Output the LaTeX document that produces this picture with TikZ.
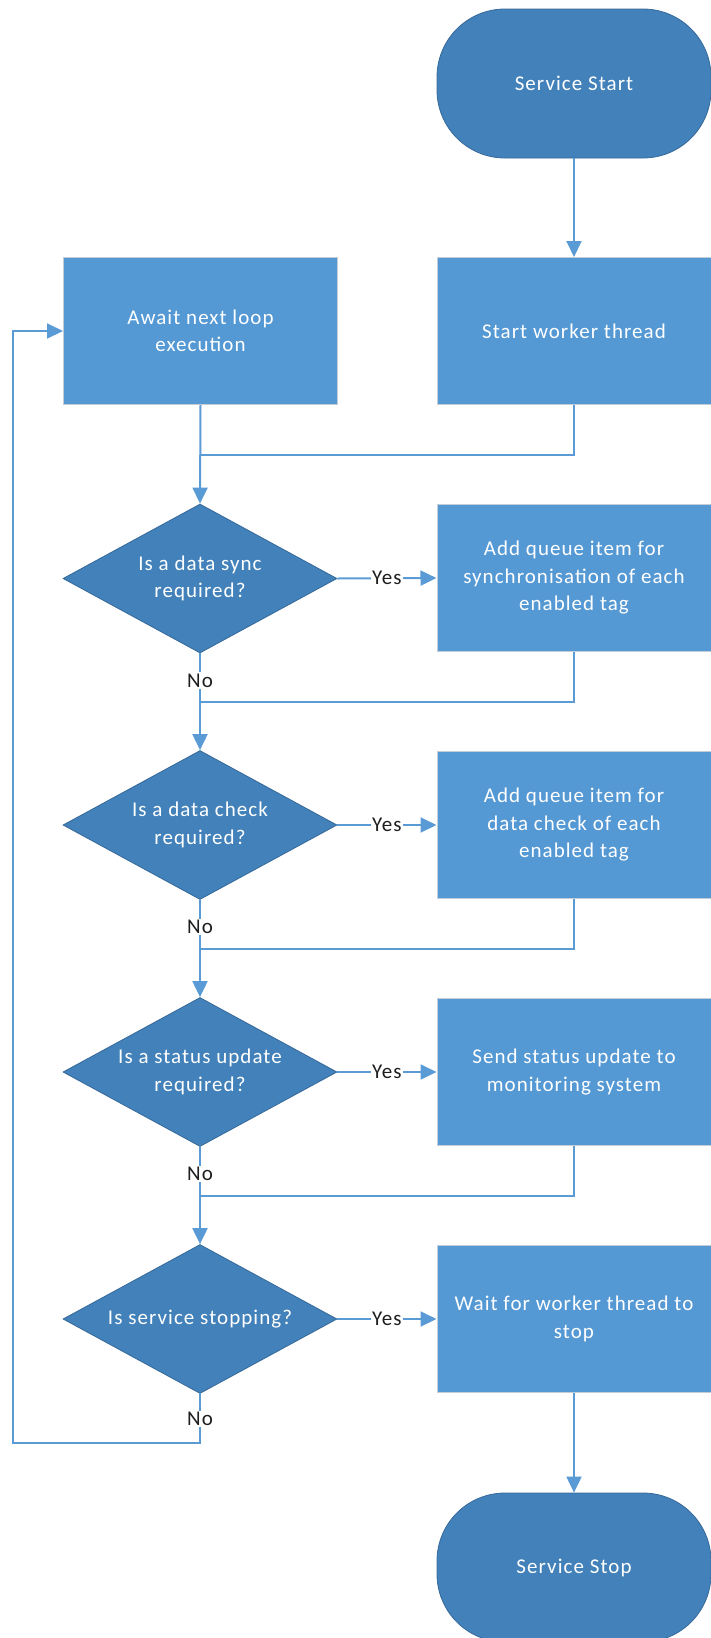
\documentclass[tikz,border=0pt]{standalone}
\usepackage{fontspec}
\setmainfont{Carlito}[LetterSpace=5]
\usetikzlibrary{arrows.meta,shapes.geometric}

\definecolor{termfill}{HTML}{4281B9}
\definecolor{termdraw}{HTML}{36699A}
\definecolor{procfill}{HTML}{5498D4}
\definecolor{procdraw}{HTML}{C3CDD8}
\definecolor{wire}{HTML}{5B9BD5}
\definecolor{lbltext}{HTML}{1E1E1E}

\tikzset{
  x=1pt, y=-1pt,
  every node/.style={font=\fontsize{21}{27.5}\selectfont},
  terminal/.style={rectangle, rounded corners=68pt, fill=termfill, draw=termdraw,
    line width=0.8pt, minimum width=274pt, minimum height=149pt,
    text=white, align=center},
  process/.style={rectangle, fill=procfill, draw=procdraw, line width=1pt,
    minimum width=274pt, minimum height=147pt, inner sep=0pt,
    text=white, align=center},
  decision/.style={diamond, aspect=1.839, fill=termfill, draw=termdraw,
    line width=0.8pt, minimum width=274pt, minimum height=149pt, inner sep=0pt,
    text=white, align=center},
  wireline/.style={draw=wire, line width=2pt},
  flow/.style={wireline, -{Triangle[length=16pt,width=15pt]}},
  lbl/.style={fill=white, text=lbltext, inner sep=1.5pt},
}

\begin{document}
\begin{tikzpicture}
\useasboundingbox (0,0) rectangle (710,1638);

% shapes
\node[terminal] (start) at (574,83.5) {Service Start};
\node[process]  (worker) at (574,331) {Start worker thread};
\node[process]  (await) at (200.5,331) {Await next loop\\execution};

\node[decision] (d1) at (200,578.5) {Is a data sync\\required?};
\node[process]  (b1) at (574,578) {Add queue item for\\synchronisation of each\\enabled tag};

\node[decision] (d2) at (200,825) {Is a data check\\required?};
\node[process]  (b2) at (574,825) {Add queue item for\\data check of each\\enabled tag};

\node[decision] (d3) at (200,1072) {Is a status update\\required?};
\node[process]  (b3) at (574,1072) {Send status update to\\monitoring system};

\node[decision] (d4) at (200,1319) {Is service stopping?};
\node[process]  (b4) at (574,1319) {Wait for worker thread to\\stop};

\node[terminal] (stop) at (574,1567.5) {Service Stop};

% merge points
\coordinate (j1) at (200,455);
\coordinate (j2) at (200,702);
\coordinate (j3) at (200,949);
\coordinate (j4) at (200,1195.5);
\coordinate (lc) at (200,1443);
\coordinate (lb) at (13,1443);

% connectors
\draw[flow] (start) -- (worker);
\draw[flow] (await.south) -- (d1.north);
\draw[wireline] (worker.south) |- (j1);

\draw[flow] (d1.east) -- node[lbl]{Yes} (b1.west);
\draw[flow] (d1.south) -- node[lbl, pos=0.28]{No} (d2.north);
\draw[wireline] (b1.south) |- (j2);

\draw[flow] (d2.east) -- node[lbl]{Yes} (b2.west);
\draw[flow] (d2.south) -- node[lbl, pos=0.28]{No} (d3.north);
\draw[wireline] (b2.south) |- (j3);

\draw[flow] (d3.east) -- node[lbl]{Yes} (b3.west);
\draw[flow] (d3.south) -- node[lbl, pos=0.28]{No} (d4.north);
\draw[wireline] (b3.south) |- (j4);

\draw[flow] (d4.east) -- node[lbl]{Yes} (b4.west);
\draw[flow] (b4.south) -- (stop.north);
\draw[flow] (d4.south) -- node[lbl, pos=0.51]{No} (lc) -- (lb) |- (await.west);
\end{tikzpicture}
\end{document}
